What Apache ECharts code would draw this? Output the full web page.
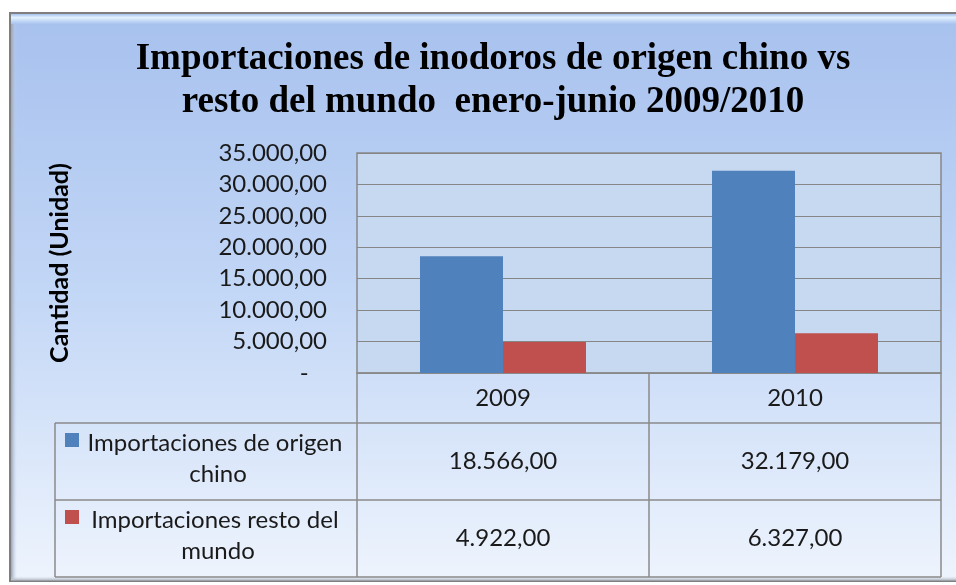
<!DOCTYPE html>
<html lang="es">
  <head>
    <meta charset="UTF-8" />
    <title>Importaciones de inodoros</title>
    <script src="https://cdn.jsdelivr.net/npm/echarts@6.0.0/dist/echarts.min.js"></script>
    <style>
      body { margin: 0; background: #fff; }
    </style>
  </head>
  <body>
    <div id="main" style="width: 956px; height: 585px"></div>
    <script type="text/javascript">
      // datos
      var years = ["2009", "2010"];
      var seriesNames = ["Importaciones de origen chino", "Importaciones resto del mundo"];
      var chinaValues = [18566, 32179];
      var restValues = [4922, 6327];
      var colors = ["#4F81BD", "#C0504D"];

      function fmt(v) {
        if (v === 0) return "-   ";
        var parts = v.toFixed(2).split(".");
        var intPart = parts[0].replace(/\B(?=(\d{3})+(?!\d))/g, ".");
        return intPart + "," + parts[1];
      }

      var labelFont = "Lato";
      var labelSize = 24;
      var lineColor = "#8a8a8a";

      var myChart = echarts.init(document.getElementById("main"));

      var option = {
        backgroundColor: "#ffffff",
        title: {
          text: "Importaciones de inodoros de origen chino vs\nresto del mundo  enero-junio 2009/2010",
          left: 488,
          top: 33,
          textAlign: "center",
          textStyle: {
            fontFamily: "Liberation Serif",
            fontWeight: "bold",
            fontSize: 37,
            lineHeight: 43,
            color: "#000"
          }
        },
        grid: {
          left: 357,
          right: 15,
          top: 153,
          bottom: 212,
          show: true,
          backgroundColor: "#c7d9f0",
          borderColor: "#888888",
          borderWidth: 1.5
        },
        xAxis: {
          type: "category",
          data: years,
          axisLine: { lineStyle: { color: lineColor, width: 1.5 } },
          axisTick: { show: true, length: 204, lineStyle: { color: lineColor, width: 1.5 } },
          axisLabel: { margin: 13, fontFamily: labelFont, fontSize: labelSize, color: "#1a1a1a" }
        },
        yAxis: {
          type: "value",
          min: 0,
          max: 35000,
          interval: 5000,
          name: "Cantidad (Unidad)",
          nameLocation: "middle",
          nameGap: 285,
          nameTextStyle: { fontFamily: labelFont, fontWeight: "bold", fontSize: 25, color: "#000" },
          axisLine: { show: false },
          axisTick: { show: false },
          axisLabel: {
            margin: 30,
            fontFamily: labelFont,
            fontSize: labelSize,
            color: "#1a1a1a",
            formatter: fmt
          },
          splitLine: { lineStyle: { color: "#868686", width: 1.2 } }
        },
        series: [
          {
            name: seriesNames[0],
            type: "bar",
            data: chinaValues,
            barWidth: 83,
            barGap: "0%",
            itemStyle: { color: colors[0] }
          },
          {
            name: seriesNames[1],
            type: "bar",
            data: restValues,
            barWidth: 83,
            barGap: "0%",
            itemStyle: { color: colors[1] }
          }
        ]
      };

      myChart.setOption(option);

      // tabla de datos y marco
      var tableLeft = 55, tableRight = 941;
      var rowTops = [423, 500, 577];
      var allValues = [chinaValues, restValues];

      var graphics = [];
      // marco exterior
      graphics.push({
        type: "rect", z: -10, silent: true,
        shape: { x: 10, y: 13, width: 960, height: 568 },
        style: {
          fill: new echarts.graphic.LinearGradient(0, 0, 0, 1, [
            { offset: 0, color: "#a7c1ee" },
            { offset: 0.5, color: "#c3d7f6" },
            { offset: 1, color: "#eef4fd" }
          ]),
          stroke: "#7f7f7f", lineWidth: 2
        }
      });
      graphics.push({
        type: "rect", z: -9, silent: true,
        shape: { x: 11, y: 14, width: 960, height: 10 },
        style: {
          fill: new echarts.graphic.LinearGradient(0, 0, 0, 1, [
            { offset: 0, color: "#a7c1ee" },
            { offset: 0.35, color: "#e2f1ff" },
            { offset: 1, color: "#a9c3ef" }
          ])
        }
      });
      graphics.push({
        type: "rect", z: -9, silent: true,
        shape: { x: 11, y: 24, width: 6, height: 555 },
        style: {
          fill: new echarts.graphic.LinearGradient(0, 0, 1, 0, [
            { offset: 0, color: "#9aa3b3" },
            { offset: 1, color: "rgba(200,215,240,0)" }
          ])
        }
      });
      graphics.push({
        type: "rect", z: -9, silent: true,
        shape: { x: 11, y: 576, width: 960, height: 5 },
        style: {
          fill: new echarts.graphic.LinearGradient(0, 0, 0, 1, [
            { offset: 0, color: "rgba(220,228,240,0)" },
            { offset: 1, color: "#9a9fa8" }
          ])
        }
      });

      // lineas de la tabla
      rowTops.forEach(function (y) {
        graphics.push({
          type: "line", silent: true, z: 5,
          shape: { x1: tableLeft, y1: y, x2: tableRight, y2: y },
          style: { stroke: lineColor, lineWidth: 1.5 }
        });
      });
      graphics.push({
        type: "line", silent: true, z: 5,
        shape: { x1: tableLeft, y1: rowTops[0], x2: tableLeft, y2: rowTops[2] },
        style: { stroke: lineColor, lineWidth: 1.5 }
      });

      // leyenda y valores
      seriesNames.forEach(function (name, i) {
        var top = rowTops[i], bottom = rowTops[i + 1];
        var mid = (top + bottom) / 2;
        graphics.push({
          type: "rect", silent: true, z: 6,
          shape: { x: 65, y: top + 10, width: 14, height: 14 },
          style: { fill: colors[i] }
        });
        graphics.push({
          type: "text", silent: true, z: 6,
          x: 218, y: mid - 3,
          style: {
            text: name,
            width: 268,
            overflow: "break",
            align: "center",
            verticalAlign: "middle",
            lineHeight: 31,
            fontFamily: labelFont,
            fontSize: labelSize,
            fill: "#1a1a1a"
          }
        });
        years.forEach(function (yr, j) {
          var cx = myChart.convertToPixel({ xAxisIndex: 0 }, yr);
          graphics.push({
            type: "text", silent: true, z: 6,
            x: cx, y: mid,
            style: {
              text: fmt(allValues[i][j]),
              align: "center",
              verticalAlign: "middle",
              fontFamily: labelFont,
              fontSize: labelSize,
              fill: "#1a1a1a"
            }
          });
        });
      });

      myChart.setOption({ graphic: graphics });
    </script>
  </body>
</html>
